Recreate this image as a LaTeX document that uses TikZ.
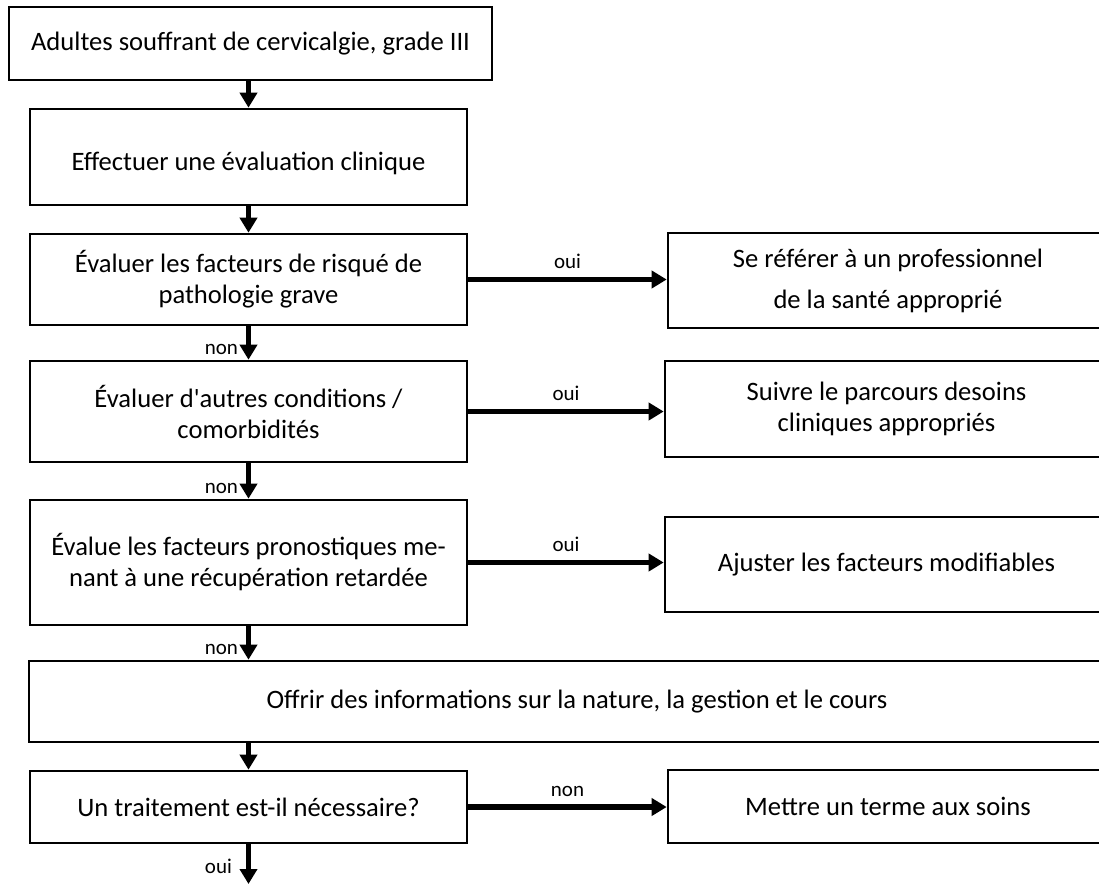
\documentclass[tikz,border=0pt]{standalone}
\usepackage{fontspec}
\setmainfont{Carlito}
\usetikzlibrary{arrows.meta}

\tikzset{
  stepbox/.style={draw=black, line width=1.3pt, align=center, inner sep=0pt,
    font=\fontsize{13.3}{15.5}\selectfont},
  flow/.style={line width=2.6pt, black, -{Triangle[width=8.5pt,length=7.5pt]}},
  lbl/.style={font=\fontsize{10.5}{12}\selectfont, inner sep=1pt}
}

\begin{document}
\begin{tikzpicture}[x=0.5pt,y=-0.5pt]
    \useasboundingbox (0,0) rectangle (1099,885);
    \clip (0,0) rectangle (1099,885);

    % left column
    \node[stepbox, minimum width=241.5pt, minimum height=36.5pt] (adultes) at (250.5,43.5) {Adultes souffrant de cervicalgie, grade III};
    \node[stepbox, minimum width=218.5pt, minimum height=48pt] (clinique) at (248.5,157) {\raisebox{-3pt}[\height][\depth]{Effectuer une évaluation clinique}};
    \node[stepbox, minimum width=218.5pt, minimum height=45.5pt] (risque) at (248.5,279.5) {Évaluer les facteurs de risqué de\\pathologie grave};
    \node[stepbox, minimum width=218.5pt, minimum height=50.5pt] (autres) at (248.5,411.5) {Évaluer d\textquotesingle autres conditions /\\comorbidités};
    \node[stepbox, minimum width=218.5pt, minimum height=62.5pt] (pronostic) at (248.5,562.5) {Évalue les facteurs pronostiques me-\\nant à une récupération retardée};
    \node[stepbox, minimum width=548pt, minimum height=40.5pt] (info) at (577,701.5) {Offrir des informations sur la nature, la gestion et le cours};
    \node[stepbox, minimum width=218.5pt, minimum height=36pt] (traitement) at (248.5,807) {Un traitement est-il nécessaire?};

    % right column
    \node[stepbox, minimum width=220pt, minimum height=47.5pt] (referer) at (888,280.5) {Se référer à un professionnel\\[5pt]de la santé approprié};
    \node[stepbox, minimum width=221.5pt, minimum height=48pt] (parcours) at (886.5,409) {Suivre le parcours desoins\\cliniques appropriés};
    \node[stepbox, minimum width=221.5pt, minimum height=47.5pt] (ajuster) at (886.5,564.5) {Ajuster les facteurs modifiables};
    \node[stepbox, minimum width=220pt, minimum height=36.5pt] (terme) at (888,806.5) {Mettre un terme aux soins};

    \coordinate (fin) at (248.5,884);

    % down the column
    \draw[flow] (clinique.north |- adultes.south) -- (clinique.north);
    \draw[flow] (clinique.south) -- (risque.north);
    \draw[flow] (risque.south) -- (autres.north) node[lbl, pos=0.7, left=3pt]{non};
    \draw[flow] (autres.south) -- (pronostic.north) node[lbl, pos=0.7, left=3pt]{non};
    \draw[flow] (pronostic.south) -- (pronostic.south |- info.north) node[lbl, pos=0.7, left=3pt]{non};
    \draw[flow] (pronostic.south |- info.south) -- (traitement.north);
    \draw[flow] (traitement.south) -- (fin) node[lbl, pos=0.55, left=6pt]{oui};

    % branches
    \draw[flow] (risque.east) -- (risque.east -| referer.west) node[lbl, midway, above=3pt]{oui};
    \draw[flow] (autres.east) -- (autres.east -| parcours.west) node[lbl, midway, above=3pt]{oui};
    \draw[flow] (pronostic.east) -- (pronostic.east -| ajuster.west) node[lbl, midway, above=3pt]{oui};
    \draw[flow] (traitement.east) -- (traitement.east -| terme.west) node[lbl, midway, above=3pt]{non};
\end{tikzpicture}
\end{document}
